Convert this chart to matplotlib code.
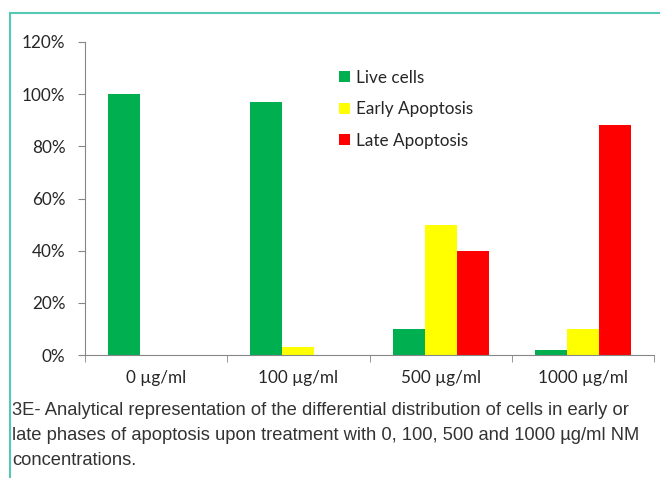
import matplotlib.pyplot as plt
import numpy as np
from matplotlib.lines import Line2D

# dados
categorias = ['0 µg/ml', '100 µg/ml', '500 µg/ml', '1000 µg/ml']
live = [100, 97, 10, 2]
early = [0, 3, 50, 10]
late = [0, 0, 40, 88]
series = ['Live cells', 'Early Apoptosis', 'Late Apoptosis']
cores = ['#00B050', '#FFFF00', '#FF0000']
legenda_y = ['0%', '20%', '40%', '60%', '80%', '100%', '120%']
caption = ("3E- Analytical representation of the differential distribution of cells in early or\n"
           "late phases of apoptosis upon treatment with 0, 100, 500 and 1000 µg/ml NM\n"
           "concentrations.")

fig = plt.figure(figsize=(6.6, 4.78), dpi=100)
ax = fig.add_axes([85/660, 1 - 355/478, (654 - 85)/660, (355 - 42)/478])

x = np.arange(len(categorias))
w = 0.225
for i, (vals, nome, cor) in enumerate(zip([live, early, late], series, cores)):
    ax.bar(x + (i - 1) * w, vals, w, color=cor, label=nome)

ax.set_xlim(-0.5, 3.5)
ax.set_ylim(0, 120)
ax.set_yticks(np.arange(0, 121, 20))
ax.set_yticklabels(legenda_y)
ax.set_xticks(x)
ax.set_xticklabels(categorias)
ax.set_xticks(np.arange(-0.5, 4, 1), minor=True)
ax.tick_params(axis='x', which='major', length=0, pad=11)
ax.tick_params(axis='x', which='minor', length=5, color='#868686', direction='out')
ax.tick_params(axis='y', length=5, color='#868686', pad=9)
for lab in ax.get_xticklabels() + ax.get_yticklabels():
    lab.set_family('Lato')
    lab.set_fontsize(12.3)
    lab.set_color('#262626')

for s in ['top', 'right']:
    ax.spines[s].set_visible(False)
for s in ['left', 'bottom']:
    ax.spines[s].set_color('#868686')

leg = ax.legend(loc='upper left', bbox_to_anchor=(0.42, 0.96), frameon=False,
                handlelength=0.6, handleheight=0.6, handletextpad=0.35,
                labelspacing=0.9, prop={'family': 'Lato', 'size': 12.3})
for t in leg.get_texts():
    t.set_color('#262626')

fig.text(12/660, 1 - 402/478, caption, ha='left', va='top', fontsize=13.2,
         family='Liberation Sans', color='#333333', linespacing=1.6)

# moldura
fig.add_artist(Line2D([10/660, 1], [1 - 13/478] * 2, color='#55c7b5', lw=1.5))
fig.add_artist(Line2D([10/660] * 2, [0, 1 - 13/478], color='#55c7b5', lw=1.5))

fig.savefig('out.png', dpi=100)
